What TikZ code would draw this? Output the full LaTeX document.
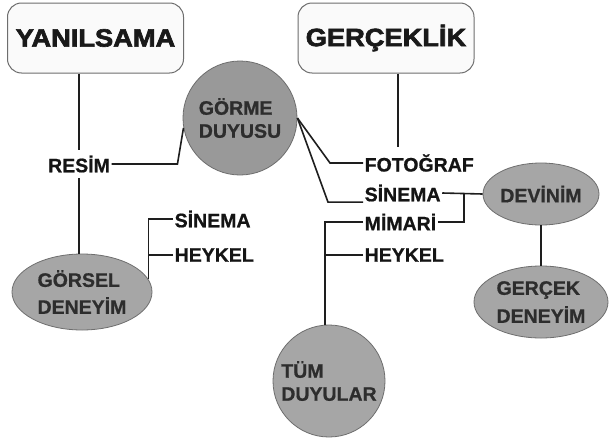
\documentclass[tikz,border=0pt]{standalone}
\usepackage{fontspec}
\setmainfont{Liberation Sans}[BoldFont={Liberation Sans Bold}]
\newfontfamily\titlefont{Liberation Sans Bold}[FakeBold=2.5]
\newfontfamily\lblfont{Liberation Sans Bold}[FakeBold=0.8]
\usetikzlibrary{shapes.geometric,calc}
\definecolor{shapegray}{RGB}{166,166,166}
\definecolor{darkgray2}{RGB}{45,45,45}
\definecolor{edgegray}{RGB}{110,110,110}
\definecolor{linecol}{RGB}{30,30,30}
\begin{document}
\begin{tikzpicture}[x=1pt,y=-1pt,
  titlebox/.style={draw=edgegray,line width=1pt,fill=gray!4,rounded corners=14pt,
    minimum width=176pt,minimum height=70pt,inner sep=0pt,
    font=\titlefont\fontsize{25}{30}\selectfont,text=black!90},
  circ/.style={circle,draw=edgegray,line width=0.8pt,fill=shapegray,inner sep=0pt,
    align=left,text=darkgray2,font=\lblfont\fontsize{19.5}{23}\selectfont},
  ell/.style={ellipse,draw=edgegray,line width=0.8pt,fill=shapegray,inner sep=0pt,
    align=left,text=darkgray2,font=\lblfont\fontsize{19.5}{27}\selectfont},
  lbl/.style={inner sep=1.5pt,text=black!92,font=\lblfont\fontsize{19.5}{22}\selectfont},
  conn/.style={draw=linecol,line width=1.6pt}]
\path[use as bounding box] (0,0) rectangle (609,439);
\fill[white] (0,0) rectangle (609,439);

% title boxes
\node[titlebox] (yan) at (95.5,38) {\scalebox{1.09}[1]{YANILSAMA}};
\node[titlebox] (ger) at (386,38) {\scalebox{1.09}[1]{GERÇEKLİK}};

% circles and ellipses
\node[circ,minimum size=114pt,fill=shapegray!92!black] (gorme) at (240,118) {GÖRME\\DUYUSU};
\node[circ,minimum size=112pt] (tum) at (329,381) {TÜM\\DUYULAR};
\node[ell,minimum width=140pt,minimum height=76pt] (gorsel) at (82,292) {GÖRSEL\\DENEYİM};
\node[ell,minimum width=116pt,minimum height=62pt] (dev) at (541,194) {DEVİNİM};
\node[ell,minimum width=134pt,minimum height=72pt,font=\lblfont\fontsize{19.5}{28}\selectfont] (gdeney) at (541,302) {GERÇEK\\DENEYİM};

% labels
\node[lbl] (resim) at (79,164) {RESİM};
\node[lbl,anchor=west] (sin1) at (173,219) {SİNEMA};
\node[lbl,anchor=west] (hey1) at (173,255) {HEYKEL};
\node[lbl,anchor=west] (foto) at (363,163) {FOTOĞRAF};
\node[lbl,anchor=west] (sin2) at (363,193) {SİNEMA};
\node[lbl,anchor=west] (mim) at (363,222) {MİMARİ};
\node[lbl,anchor=west] (hey2) at (363,255) {HEYKEL};

% connectors
\draw[conn] (yan.south -| resim.north) -- ([yshift=4pt]resim.north);
\draw[conn] ([yshift=-4pt]resim.south) -- (resim.south |- gorsel.north);
\draw[conn] (resim.east) -- ([xshift=-6pt]resim.east -| gorme.190) -- (gorme.190);
\draw[conn] (sin1.west) -| (gorsel.11);
\draw[conn] (hey1.west) -- (hey1.west -| gorsel.11);

\draw[conn] ([xshift=12pt]ger.south) -- ([xshift=12pt,yshift=6pt]ger.south |- foto.north);
\draw[conn] (gorme.east) -- ([xshift=-33pt]foto.west) -- (foto.west);
\draw[conn] (gorme.east) -- ([xshift=-35pt,yshift=1pt]sin2.south west) -- ([yshift=1pt]sin2.south west);
\draw[conn] (sin2.east) -- (dev.west);
\draw[conn] (mim.east) -| ([xshift=22pt]sin2.east);
\draw[conn] (mim.west) -| (tum.94);
\draw[conn] (hey2.west) -- (hey2.west -| tum.94);
\draw[conn] (dev.south) -- (gdeney.north);
\end{tikzpicture}
\end{document}
